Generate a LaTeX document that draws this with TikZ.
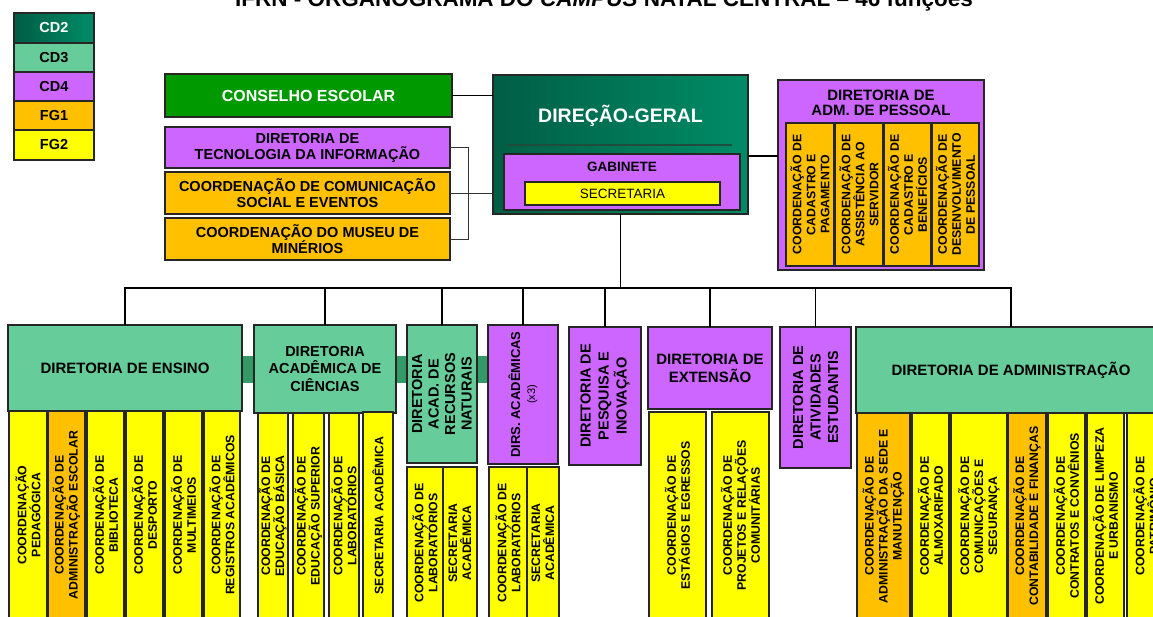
\documentclass[tikz,border=0pt]{standalone}
\usepackage{fontspec}
\setmainfont{Liberation Sans}
\usetikzlibrary{calc}
\definecolor{cdA}{HTML}{005E45}
\definecolor{cdB}{HTML}{008C66}
\definecolor{cdthr}{HTML}{66CC99}
\definecolor{cdfou}{HTML}{CC66FF}
\definecolor{fgone}{HTML}{FFC000}
\definecolor{fgtwo}{HTML}{FFFF00}
\definecolor{conse}{HTML}{009900}
\definecolor{barc}{HTML}{339966}
\definecolor{dgl}{HTML}{1E4D3C}
\newcommand\myfs[2]{\fontsize{#1}{#2}\selectfont}
\tikzset{
  base/.style={draw=black!85, line width=1.1pt, inner sep=1pt, outer sep=0pt, align=center, font=\bfseries},
  gtwo/.style={base, left color=cdA, right color=cdB, text=white},
  gthree/.style={base, fill=cdthr},
  gfour/.style={base, fill=cdfou},
  gfgone/.style={base, fill=fgone},
  gfgtwo/.style={base, fill=fgtwo},
  subtxt/.style={font=\bfseries\myfs{12.3}{14}},
  conn/.style={line width=1.8pt, draw=black},
  thinc/.style={line width=1pt, draw=black!80},
}
\newcommand\boxH[7]{\node[#6, minimum width={(#4-#2)*1pt}, minimum height={(#5-#3)*1pt}] (#1) at ({(#2+#4)/2},{(#3+#5)/2}) {#7};}
\newcommand\boxV[7]{\node[#6, rotate=90, minimum width={(#5-#3)*1pt}, minimum height={(#4-#2)*1pt}] (#1) at ({(#2+#4)/2},{(#3+#5)/2}) {#7};}
\begin{document}
\begin{tikzpicture}[x=1pt,y=-1pt]
\useasboundingbox (0,0) rectangle (1153,616);
\fill[white] (0,0) rectangle (1153,616);
% title (cut at the top edge, as in the reference)
\node[anchor=base, font=\bfseries\myfs{22.5}{26}, inner sep=0pt] (title) at (604,6.5) {IFRN - ORGANOGRAMA DO \textit{CAMPUS} NATAL CENTRAL – 46 funções};
% legend
\boxH{lcdtwo}{14}{13}{94}{43}{gtwo,font=\bfseries\myfs{14.5}{16}}{CD2}
\boxH{lcdthr}{14}{43}{94}{72}{gthree,font=\bfseries\myfs{14.5}{16}}{CD3}
\boxH{lcdfou}{14}{72}{94}{101}{gfour,font=\bfseries\myfs{14.5}{16}}{CD4}
\boxH{lfgone}{14}{101}{94}{130}{gfgone,font=\bfseries\myfs{14.5}{16}}{FG1}
\boxH{lfgtwo}{14}{130}{94}{160}{gfgtwo,font=\bfseries\myfs{14.5}{16}}{FG2}
% top level
\boxH{ce}{165}{74}{452}{117}{base,fill=conse,text=white,font=\bfseries\myfs{16}{18}}{CONSELHO ESCOLAR}
\boxH{dg}{493}{75}{748}{214}{gtwo}{}
\node[text=white,font=\bfseries\myfs{19.5}{22}] (dgt) at (620.5,116) {DIREÇÃO-GERAL};
\draw[line width=1.3pt, draw=dgl] (506,145) -- (732,145);
\boxH{gab}{504}{154}{740}{210}{gfour}{}
\node[font=\bfseries\myfs{13.5}{15}] (gabt) at (622,167) {GABINETE};
\boxH{sec}{525}{182}{720}{205}{gfgtwo,font=\myfs{13.5}{15}}{SECRETARIA}
\boxH{dti}{165}{127}{450}{168}{gfour,font=\bfseries\myfs{14.5}{16}}{DIRETORIA DE\\TECNOLOGIA DA INFORMAÇÃO}
\boxH{com}{165}{172}{450}{214}{gfgone,font=\bfseries\myfs{14.5}{16}}{COORDENAÇÃO DE COMUNICAÇÃO\\SOCIAL E EVENTOS}
\boxH{mus}{165}{218}{450}{260}{gfgone,font=\bfseries\myfs{14.5}{16}}{COORDENAÇÃO DO MUSEU DE\\MINÉRIOS}
% adm. de pessoal
\boxH{adp}{778}{80}{984}{270}{gfour}{}
\node[align=center,font=\bfseries\myfs{15}{15.5}] (adpt) at (881,103) {DIRETORIA DE\\ADM. DE PESSOAL};
\boxV{pa}{786}{123}{834}{266}{gfgone,subtxt}{COORDENAÇÃO DE\\CADASTRO E\\PAGAMENTO}
\boxV{pb}{835}{123}{883}{266}{gfgone,subtxt}{COORDENAÇÃO DE\\ASSISTÊNCIA AO\\SERVIDOR}
\boxV{pc}{884}{123}{931}{266}{gfgone,subtxt}{COORDENAÇÃO DE\\CADASTRO E\\BENEFÍCIOS}
\boxV{pd}{932}{123}{979}{266}{gfgone,subtxt}{COORDENAÇÃO DE\\DESENVOLVIMENTO\\DE PESSOAL}
% connectors of the top level
\draw[conn] (ce.east) -- (ce.east -| dg.west);
\draw[thinc] (dti.east) -- ++(18,0) coordinate (bt) -- (bt |- mus.east) -- (mus.east);
\draw[thinc] (com.east) -- (com.east -| dg.west);
\coordinate (dpc) at (748,156);
\draw[conn] (dpc) -- (dpc -| adp.west);
% second level
\fill[barc] (240,356) rectangle (490,383);
\boxH{ens}{8}{325}{242}{411}{gthree,font=\bfseries\myfs{15}{16}}{DIRETORIA DE ENSINO}
\boxH{cie}{254}{325}{396}{413}{gthree,font=\bfseries\myfs{14.5}{17.5}}{DIRETORIA\\ACADÊMICA DE\\CIÊNCIAS}
\boxV{rec}{407}{325}{477}{463}{gthree,font=\bfseries\myfs{14.5}{16.5}}{DIRETORIA\\ACAD. DE\\RECURSOS\\NATURAIS}
\boxV{dirs}{488}{325}{558}{464}{gfour,font=\bfseries\myfs{13}{15}}{DIRS. ACADÊMICAS\\{\mdseries\myfs{11}{13}(x3)}}
\boxV{pes}{569}{327}{641}{465}{gfour,font=\bfseries\myfs{14.5}{18}}{DIRETORIA DE\\PESQUISA E\\INOVAÇÃO}
\boxH{ext}{648}{327}{772}{409}{gfour,font=\bfseries\myfs{15}{18}}{DIRETORIA DE\\EXTENSÃO}
\boxV{ati}{780}{327}{851}{468}{gfour,font=\bfseries\myfs{14.5}{17.5}}{DIRETORIA DE\\ATIVIDADES\\ESTUDANTIS}
\boxH{adm}{856}{327}{1166}{413}{gthree,font=\bfseries\myfs{15}{18}}{DIRETORIA DE ADMINISTRAÇÃO}
\coordinate (bus) at (620.5,288);
\draw[conn] (dg.south) -- (bus);
\foreach \n in {ens,cie,ext,adm} \draw[conn] (bus) -| (\n.north);
\foreach \n in {rec,dirs,pes,ati} \draw[conn] (bus) -| (\n.east);
% third level: ensino
\boxV{ea}{9}{411}{47}{619}{gfgtwo,subtxt}{COORDENAÇÃO\\PEDAGÓGICA}
\boxV{eb}{48}{411}{85}{619}{gfgone,subtxt}{COORDENAÇÃO DE\\ADMINISTRAÇÃO ESCOLAR}
\boxV{ec}{87}{411}{124}{619}{gfgtwo,subtxt}{COORDENAÇÃO DE\\BIBLIOTECA}
\boxV{ed}{126}{411}{163}{619}{gfgtwo,subtxt}{COORDENAÇÃO DE\\DESPORTO}
\boxV{ee}{165}{411}{202}{619}{gfgtwo,subtxt}{COORDENAÇÃO DE\\MULTIMEIOS}
\boxV{ef}{204}{411}{240}{619}{gfgtwo,subtxt}{COORDENAÇÃO DE\\REGISTROS ACADÊMICOS}
% ciencias
\boxV{ca}{258}{413}{288}{619}{gfgtwo,subtxt}{COORDENAÇÃO DE\\EDUCAÇÃO BÁSICA}
\boxV{cb}{293}{413}{324}{619}{gfgtwo,subtxt}{COORDENAÇÃO DE\\EDUCAÇÃO SUPERIOR}
\boxV{cc}{329}{413}{359}{619}{gfgtwo,subtxt}{COORDENAÇÃO DE\\LABORATÓRIOS}
\boxV{cd}{363}{412}{393}{619}{gfgtwo,subtxt}{SECRETARIA ACADÊMICA}
% recursos naturais
\boxV{ra}{407}{467}{443}{619}{gfgtwo,subtxt}{COORDENAÇÃO DE\\LABORATÓRIOS}
\boxV{rb}{443}{467}{477}{619}{gfgtwo,subtxt}{SECRETARIA\\ACADÊMICA}
% dirs academicas
\boxV{da}{489}{467}{527}{619}{gfgtwo,subtxt}{COORDENAÇÃO DE\\LABORATÓRIOS}
\boxV{db}{527}{467}{559}{619}{gfgtwo,subtxt}{SECRETARIA\\ACADÊMICA}
% extensao
\boxV{xa}{649}{412}{706}{619}{gfgtwo,subtxt}{COORDENAÇÃO DE\\ESTÁGIOS E EGRESSOS}
\boxV{xb}{712}{412}{769}{619}{gfgtwo,subtxt}{COORDENAÇÃO DE\\PROJETOS E RELAÇÕES\\COMUNITÁRIAS}
% administracao
\boxV{aa}{857}{413}{910}{619}{gfgone,subtxt}{COORDENAÇÃO DE\\ADMINISTRAÇÃO DA SEDE E\\MANUTENÇÃO}
\boxV{ab}{912}{413}{949}{619}{gfgtwo,subtxt}{COORDENAÇÃO DE\\ALMOXARIFADO}
\boxV{ac}{951}{413}{1007}{619}{gfgtwo,subtxt}{COORDENAÇÃO DE\\COMUNICAÇÕES E\\SEGURANÇA}
\boxV{ad}{1008}{413}{1046}{619}{gfgone,subtxt}{COORDENAÇÃO DE\\CONTABILIDADE E FINANÇAS}
\boxV{ae}{1048}{413}{1085}{619}{gfgtwo,subtxt}{COORDENAÇÃO DE\\CONTRATOS E CONVÊNIOS}
\boxV{af}{1087}{413}{1124}{619}{gfgtwo,subtxt}{COORDENAÇÃO DE LIMPEZA\\E URBANISMO}
\boxV{ag}{1127}{413}{1165}{619}{gfgtwo,subtxt}{COORDENAÇÃO DE\\PATRIMÔNIO}
\end{tikzpicture}
\end{document}
